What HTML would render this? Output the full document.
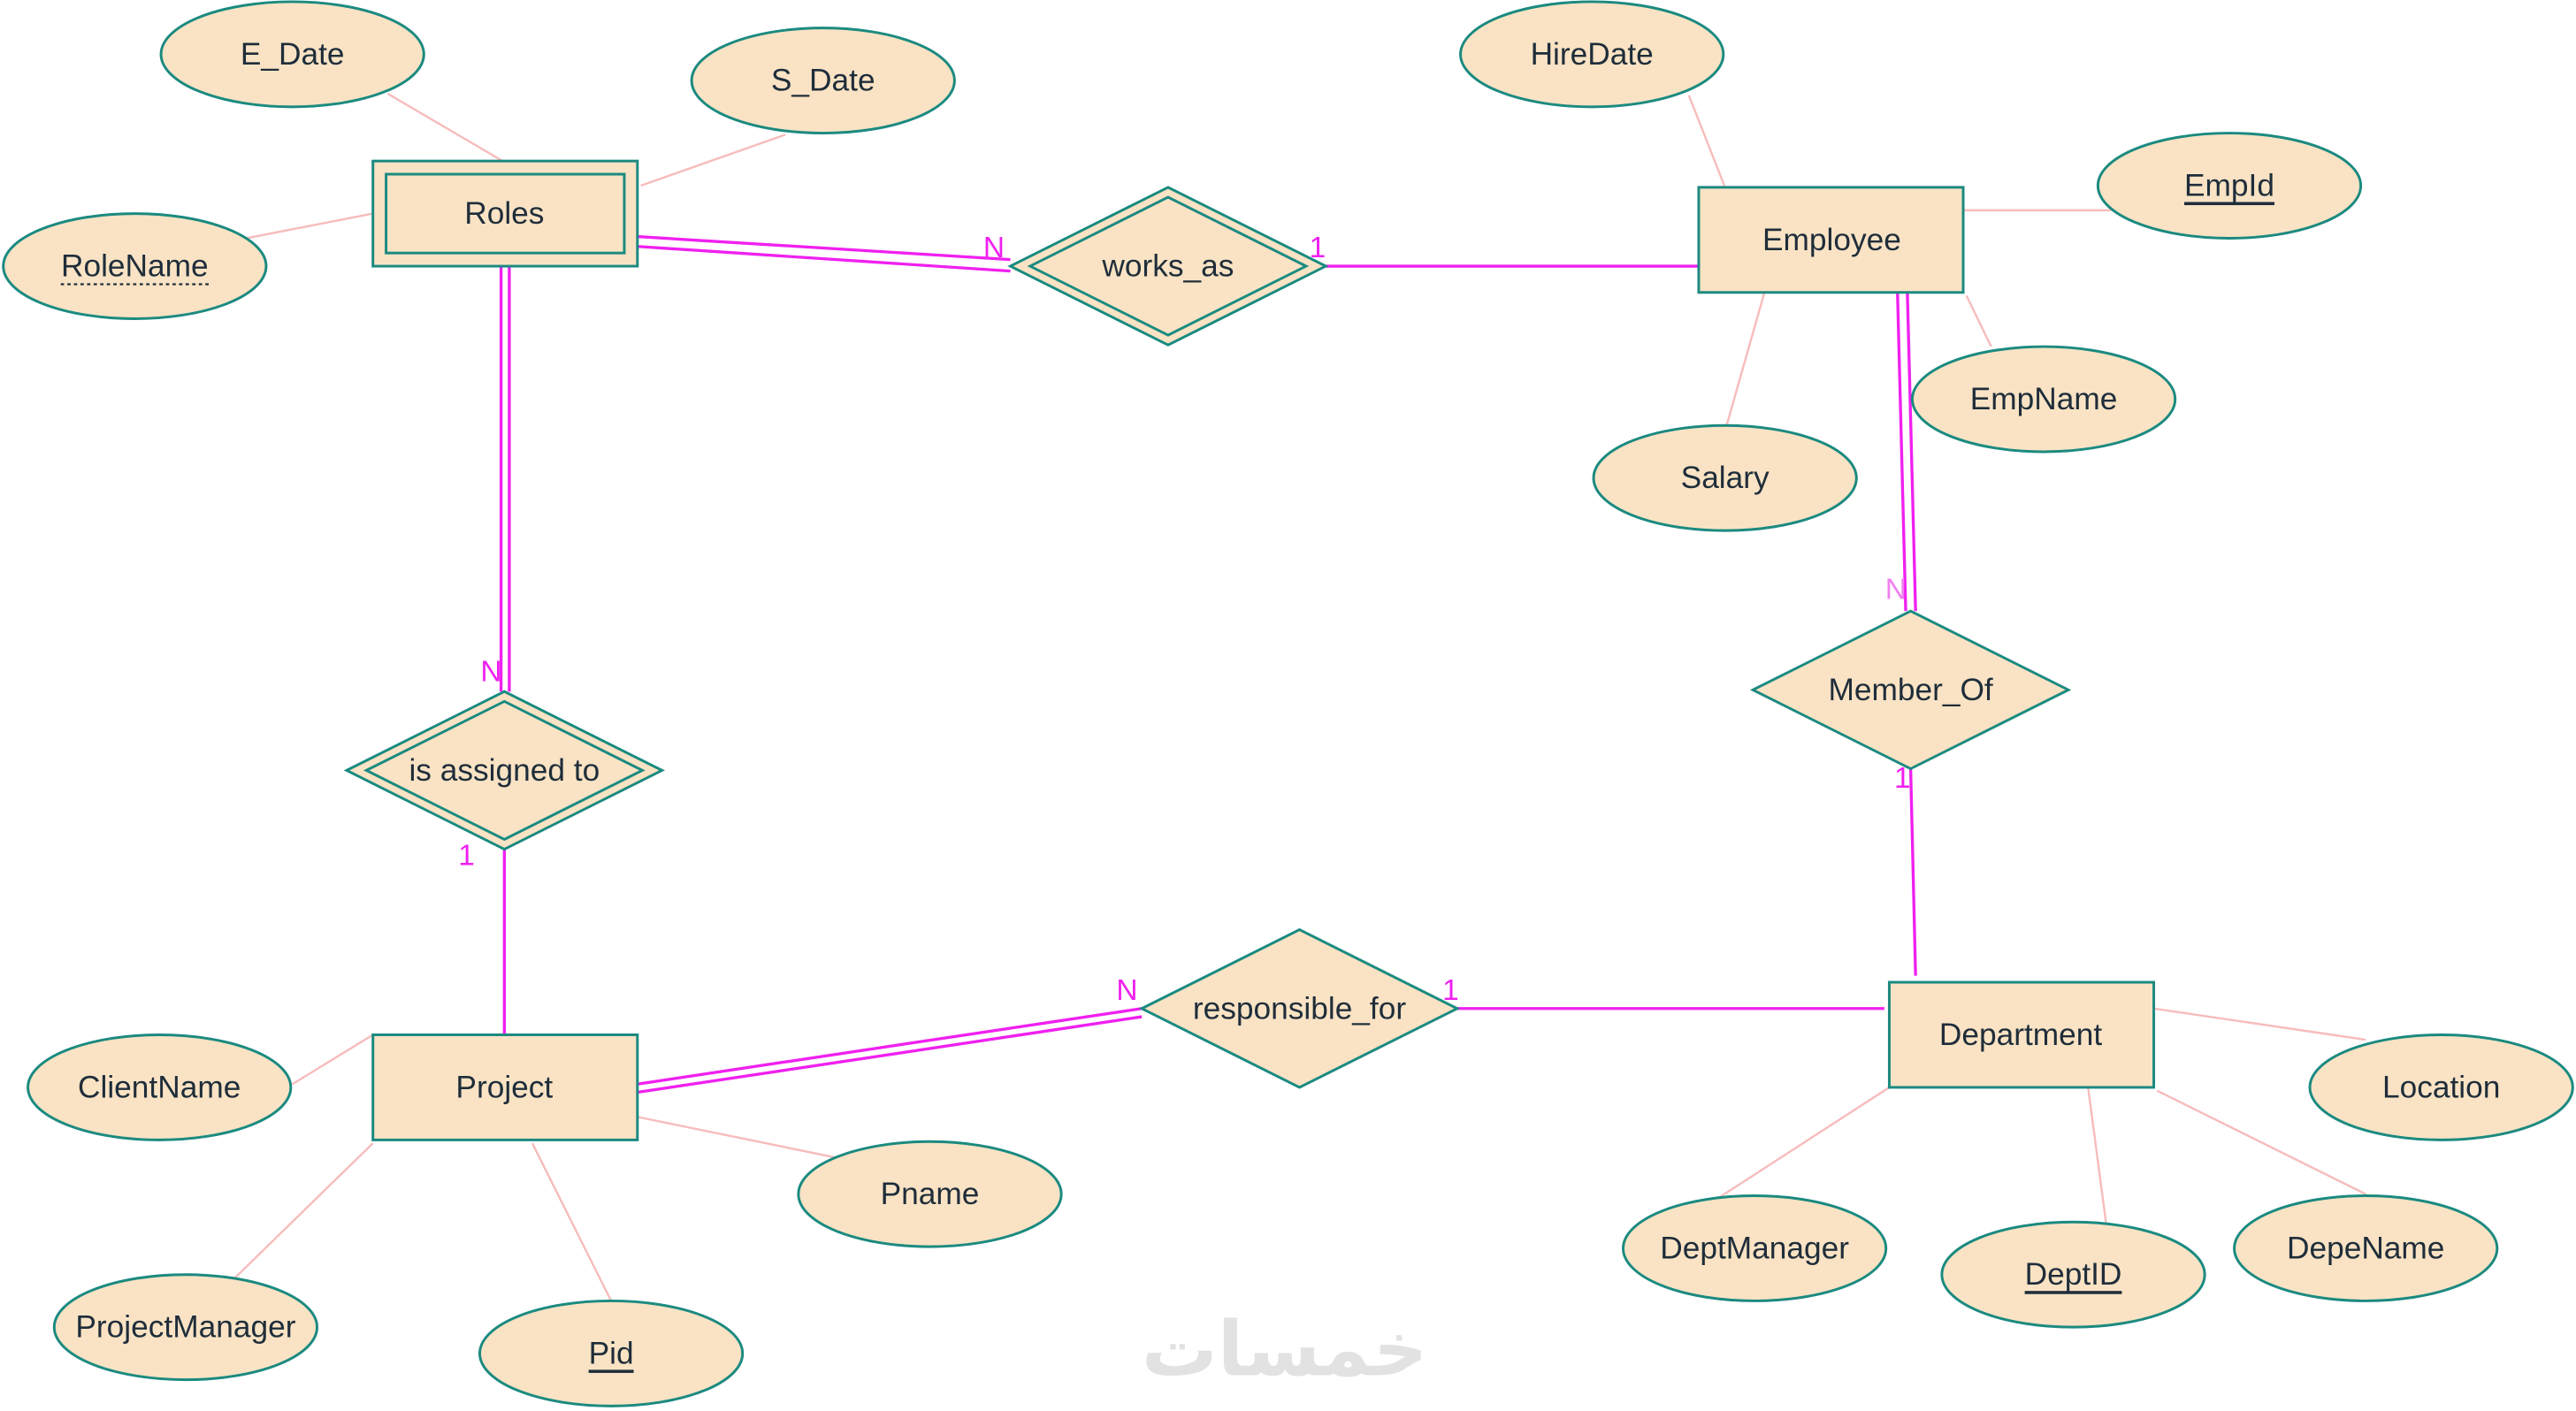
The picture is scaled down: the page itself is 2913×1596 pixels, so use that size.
<!DOCTYPE html>
<html><head><meta charset="utf-8"><style>
html,body{margin:0;padding:0;background:#fff;}
svg{display:block;}
text{font-family:"Liberation Sans",Arial,sans-serif;font-size:19px;fill:#1f2d3a;text-anchor:middle;dominant-baseline:central;}
.e{fill:#f9e3c4;stroke:#1b8a80;stroke-width:1.6;}
.a{stroke:#f7bcbc;stroke-width:1.3;fill:none;}
.m{stroke:#f020f0;stroke-width:1.8;fill:none;}
.c{fill:#f020f0;font-size:18px;}
</style></head><body>
<svg width="2913" height="1596" viewBox="0 0 1568 859" xmlns="http://www.w3.org/2000/svg">
<!-- attribute lines -->
<line class="a" x1="236" y1="57" x2="306" y2="98"/>
<line class="a" x1="478" y1="82" x2="390" y2="113"/>
<line class="a" x1="150" y1="145" x2="227" y2="130"/>
<line class="a" x1="1028" y1="58" x2="1050" y2="114"/>
<line class="a" x1="1195" y1="128" x2="1285" y2="128"/>
<line class="a" x1="1197" y1="180" x2="1212" y2="211"/>
<line class="a" x1="1074" y1="178" x2="1051" y2="259"/>
<line class="a" x1="178" y1="660" x2="227" y2="630"/>
<line class="a" x1="143" y1="778" x2="227" y2="696"/>
<line class="a" x1="324" y1="696" x2="372" y2="792"/>
<line class="a" x1="388" y1="680" x2="510" y2="705"/>
<line class="a" x1="1045" y1="730" x2="1150" y2="662"/>
<line class="a" x1="1271" y1="662" x2="1282" y2="745"/>
<line class="a" x1="1313" y1="664" x2="1440" y2="727"/>
<line class="a" x1="1311" y1="614" x2="1440" y2="633"/>
<!-- relationship lines -->
<line class="m" x1="388" y1="144" x2="615" y2="158"/>
<line class="m" x1="388" y1="150" x2="615" y2="165"/>
<line class="m" x1="807" y1="162" x2="1034" y2="162"/>
<line class="m" x1="305" y1="162" x2="305" y2="421"/>
<line class="m" x1="310" y1="162" x2="310" y2="421"/>
<line class="m" x1="307" y1="517" x2="307" y2="630"/>
<line class="m" x1="1155" y1="178" x2="1160" y2="372"/>
<line class="m" x1="1161" y1="178" x2="1166" y2="372"/>
<line class="m" x1="1163" y1="468" x2="1166" y2="594"/>
<line class="m" x1="388" y1="660" x2="695" y2="614"/>
<line class="m" x1="388" y1="665" x2="695" y2="619"/>
<line class="m" x1="887" y1="614" x2="1147" y2="614"/>
<!-- ellipses -->
<ellipse class="e" cx="178" cy="33" rx="80" ry="32"/><text x="178" y="33">E_Date</text>
<ellipse class="e" cx="501" cy="49" rx="80" ry="32"/><text x="501" y="49">S_Date</text>
<ellipse class="e" cx="82" cy="162" rx="80" ry="32"/><text x="82" y="162">RoleName</text>
<line x1="37" y1="173" x2="127" y2="173" stroke="#1f2d3a" stroke-width="1.2" stroke-dasharray="2,2"/>
<ellipse class="e" cx="969" cy="33" rx="80" ry="32"/><text x="969" y="33">HireDate</text>
<ellipse class="e" cx="1357" cy="113" rx="80" ry="32"/><text x="1357" y="113" text-decoration="underline">EmpId</text>
<ellipse class="e" cx="1244" cy="243" rx="80" ry="32"/><text x="1244" y="243">EmpName</text>
<ellipse class="e" cx="1050" cy="291" rx="80" ry="32"/><text x="1050" y="291">Salary</text>
<ellipse class="e" cx="97" cy="662" rx="80" ry="32"/><text x="97" y="662">ClientName</text>
<ellipse class="e" cx="113" cy="808" rx="80" ry="32"/><text x="113" y="808">ProjectManager</text>
<ellipse class="e" cx="372" cy="824" rx="80" ry="32"/><text x="372" y="824" text-decoration="underline">Pid</text>
<ellipse class="e" cx="566" cy="727" rx="80" ry="32"/><text x="566" y="727">Pname</text>
<ellipse class="e" cx="1068" cy="760" rx="80" ry="32"/><text x="1068" y="760">DeptManager</text>
<ellipse class="e" cx="1262" cy="776" rx="80" ry="32"/><text x="1262" y="776" text-decoration="underline">DeptID</text>
<ellipse class="e" cx="1440" cy="760" rx="80" ry="32"/><text x="1440" y="760">DepeName</text>
<ellipse class="e" cx="1486" cy="662" rx="80" ry="32"/><text x="1486" y="662">Location</text>
<!-- entities -->
<rect class="e" x="227" y="98" width="161" height="64"/>
<rect class="e" x="235" y="106" width="145" height="48"/><text x="307" y="130">Roles</text>
<rect class="e" x="1034" y="114" width="161" height="64"/><text x="1115" y="146">Employee</text>
<rect class="e" x="227" y="630" width="161" height="64"/><text x="307" y="662">Project</text>
<rect class="e" x="1150" y="598" width="161" height="64"/><text x="1230" y="630">Department</text>
<!-- relationships -->
<polygon class="e" points="615,162 711,114 807,162 711,210"/>
<polygon class="e" points="627,162 711,120 795,162 711,204"/><text x="711" y="162">works_as</text>
<polygon class="e" points="211,469 307,421 403,469 307,517"/>
<polygon class="e" points="223,469 307,427 391,469 307,511"/><text x="307" y="469">is assigned to</text>
<polygon class="e" points="1067,420 1163,372 1259,420 1163,468"/><text x="1163" y="420">Member_Of</text>
<polygon class="e" points="695,614 791,566 887,614 791,662"/><text x="791" y="614">responsible_for</text>
<!-- cardinalities -->
<text class="c" x="605" y="151">N</text><text class="c" x="802" y="151">1</text>
<text class="c" x="299" y="409">N</text><text class="c" x="284" y="521">1</text>
<text class="c" x="1154" y="359" style="fill:#f080f0">N</text><text class="c" x="1158" y="474">1</text>
<text class="c" x="686" y="603">N</text><text class="c" x="883" y="603">1</text>
<text x="782" y="822" style="font-size:46px;fill:#e2e2e2;font-family:'DejaVu Sans',sans-serif;font-weight:bold">خمسات</text>
</svg>
</body></html>
